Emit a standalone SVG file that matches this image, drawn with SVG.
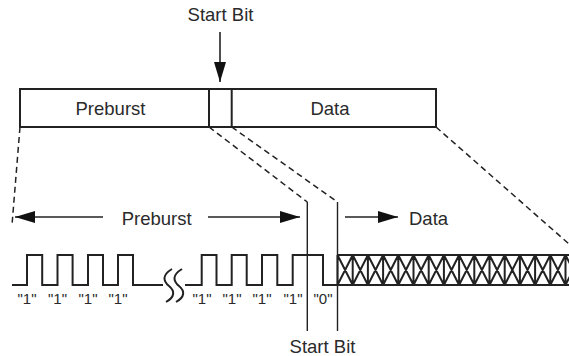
<svg xmlns="http://www.w3.org/2000/svg" width="569" height="356" viewBox="0 0 569 356">
<style>
text{font-family:"Liberation Sans",Arial,sans-serif;fill:#2a2a2a}
.big{font-size:18.5px}
.small{font-size:15px}
.box{fill:#fff;stroke:#222;stroke-width:2}
.wave{fill:none;stroke:#222;stroke-width:2;stroke-linejoin:miter}
.dash{fill:none;stroke:#222;stroke-width:1.5;stroke-dasharray:6 4}
.thin{fill:none;stroke:#222;stroke-width:1.4}
.arr{fill:none;stroke:#222;stroke-width:1.6}
</style>
<defs>
<marker id="ah" markerUnits="userSpaceOnUse" markerWidth="21" markerHeight="12" refX="20" refY="6" orient="auto">
<path d="M0,0 L20,6 L0,12 z" fill="#111"/>
</marker>
</defs>
<g id="frame">
<rect class="box" x="20" y="89" width="416" height="38"/>
<line class="box" x1="209" y1="89" x2="209" y2="127"/>
<line class="box" x1="231.7" y1="89" x2="231.7" y2="127"/>
<text class="big" x="110.5" y="115.3" text-anchor="middle">Preburst</text>
<text class="big" x="330" y="115.3" text-anchor="middle">Data</text>
</g>
<g id="startbit-top">
<text class="big" x="220.5" y="20.7" text-anchor="middle">Start Bit</text>
</g>
<g id="waveform">
<path class="wave" d="M12 285 H27 V255 H42.2 V285 H57.5 V255 H72.6 V285 H88 V255 H103 V285 H118 V255 H133 V285 H163"/>
<path class="wave" stroke-width="1.7" d="M172 269 C162 275,163 281,169 286 C175 291,175 297,166 302"/>
<path class="wave" stroke-width="1.7" d="M182 269 C172 275,173 281,179 286 C185 291,185 297,176 302"/>
<path class="wave" d="M185 285 H201.7 V255 H216.5 V285 H231.7 V255 H246.7 V285 H262 V255 H277.3 V285 H292.7 V255 H323 V285 H337.5"/>
<path class="wave" stroke-width="1.6" d="M337.5 255 H569 M337.5 285 H569
M337.5 255 V285 M352.7 255 V285 M367.9 255 V285 M383.1 255 V285 M398.3 255 V285 M413.5 255 V285 M428.7 255 V285 M443.9 255 V285 M459.1 255 V285 M474.3 255 V285 M489.5 255 V285 M504.7 255 V285 M519.9 255 V285 M535.1 255 V285 M550.3 255 V285 M565.5 255 V285
M337.5 255 L352.7 285 M352.7 255 L367.9 285 M367.9 255 L383.1 285 M383.1 255 L398.3 285 M398.3 255 L413.5 285 M413.5 255 L428.7 285 M428.7 255 L443.9 285 M443.9 255 L459.1 285 M459.1 255 L474.3 285 M474.3 255 L489.5 285 M489.5 255 L504.7 285 M504.7 255 L519.9 285 M519.9 255 L535.1 285 M535.1 255 L550.3 285 M550.3 255 L565.5 285 M565.5 255 L580.7 285
M337.5 285 L352.7 255 M352.7 285 L367.9 255 M367.9 285 L383.1 255 M383.1 285 L398.3 255 M398.3 285 L413.5 255 M413.5 285 L428.7 255 M428.7 285 L443.9 255 M443.9 285 L459.1 255 M459.1 285 L474.3 255 M474.3 285 L489.5 255 M489.5 285 L504.7 255 M504.7 285 L519.9 255 M519.9 285 L535.1 255 M535.1 285 L550.3 255 M550.3 285 L565.5 255 M565.5 285 L580.7 255"/>
</g>
<g id="bit-labels">
<text class="small" x="27" y="303.5" text-anchor="middle">"1"</text>
<text class="small" x="57.5" y="303.5" text-anchor="middle">"1"</text>
<text class="small" x="88" y="303.5" text-anchor="middle">"1"</text>
<text class="small" x="118" y="303.5" text-anchor="middle">"1"</text>
<text class="small" x="202" y="303.5" text-anchor="middle">"1"</text>
<text class="small" x="232" y="303.5" text-anchor="middle">"1"</text>
<text class="small" x="262" y="303.5" text-anchor="middle">"1"</text>
<text class="small" x="293" y="303.5" text-anchor="middle">"1"</text>
<text class="small" x="323" y="303.5" text-anchor="middle">"0"</text>
</g>
<g id="startbit-bottom">
<text class="big" x="322.5" y="353" text-anchor="middle">Start Bit</text>
</g>
<g id="span-labels">
<text class="big" x="156.7" y="225" text-anchor="middle">Preburst</text>
<text class="big" x="409" y="225">Data</text>
</g>
<g id="connectors">
<line class="arr" x1="220" y1="32" x2="220" y2="82" marker-end="url(#ah)"/>
<line class="dash" x1="20" y1="127" x2="12" y2="225"/>
<line class="dash" x1="209" y1="127" x2="307.3" y2="202"/>
<line class="dash" x1="231.7" y1="127" x2="337.5" y2="202"/>
<line class="dash" x1="436" y1="127" x2="569" y2="244"/>
<line class="thin" x1="307.3" y1="202" x2="307.3" y2="331"/>
<line class="thin" x1="337.5" y1="202" x2="337.5" y2="331"/>
<line class="arr" x1="103" y1="217" x2="15" y2="217" marker-end="url(#ah)"/>
<line class="arr" x1="208" y1="217" x2="300" y2="217" marker-end="url(#ah)"/>
<line class="arr" x1="345" y1="217" x2="398" y2="217" marker-end="url(#ah)"/>
</g>
</svg>
